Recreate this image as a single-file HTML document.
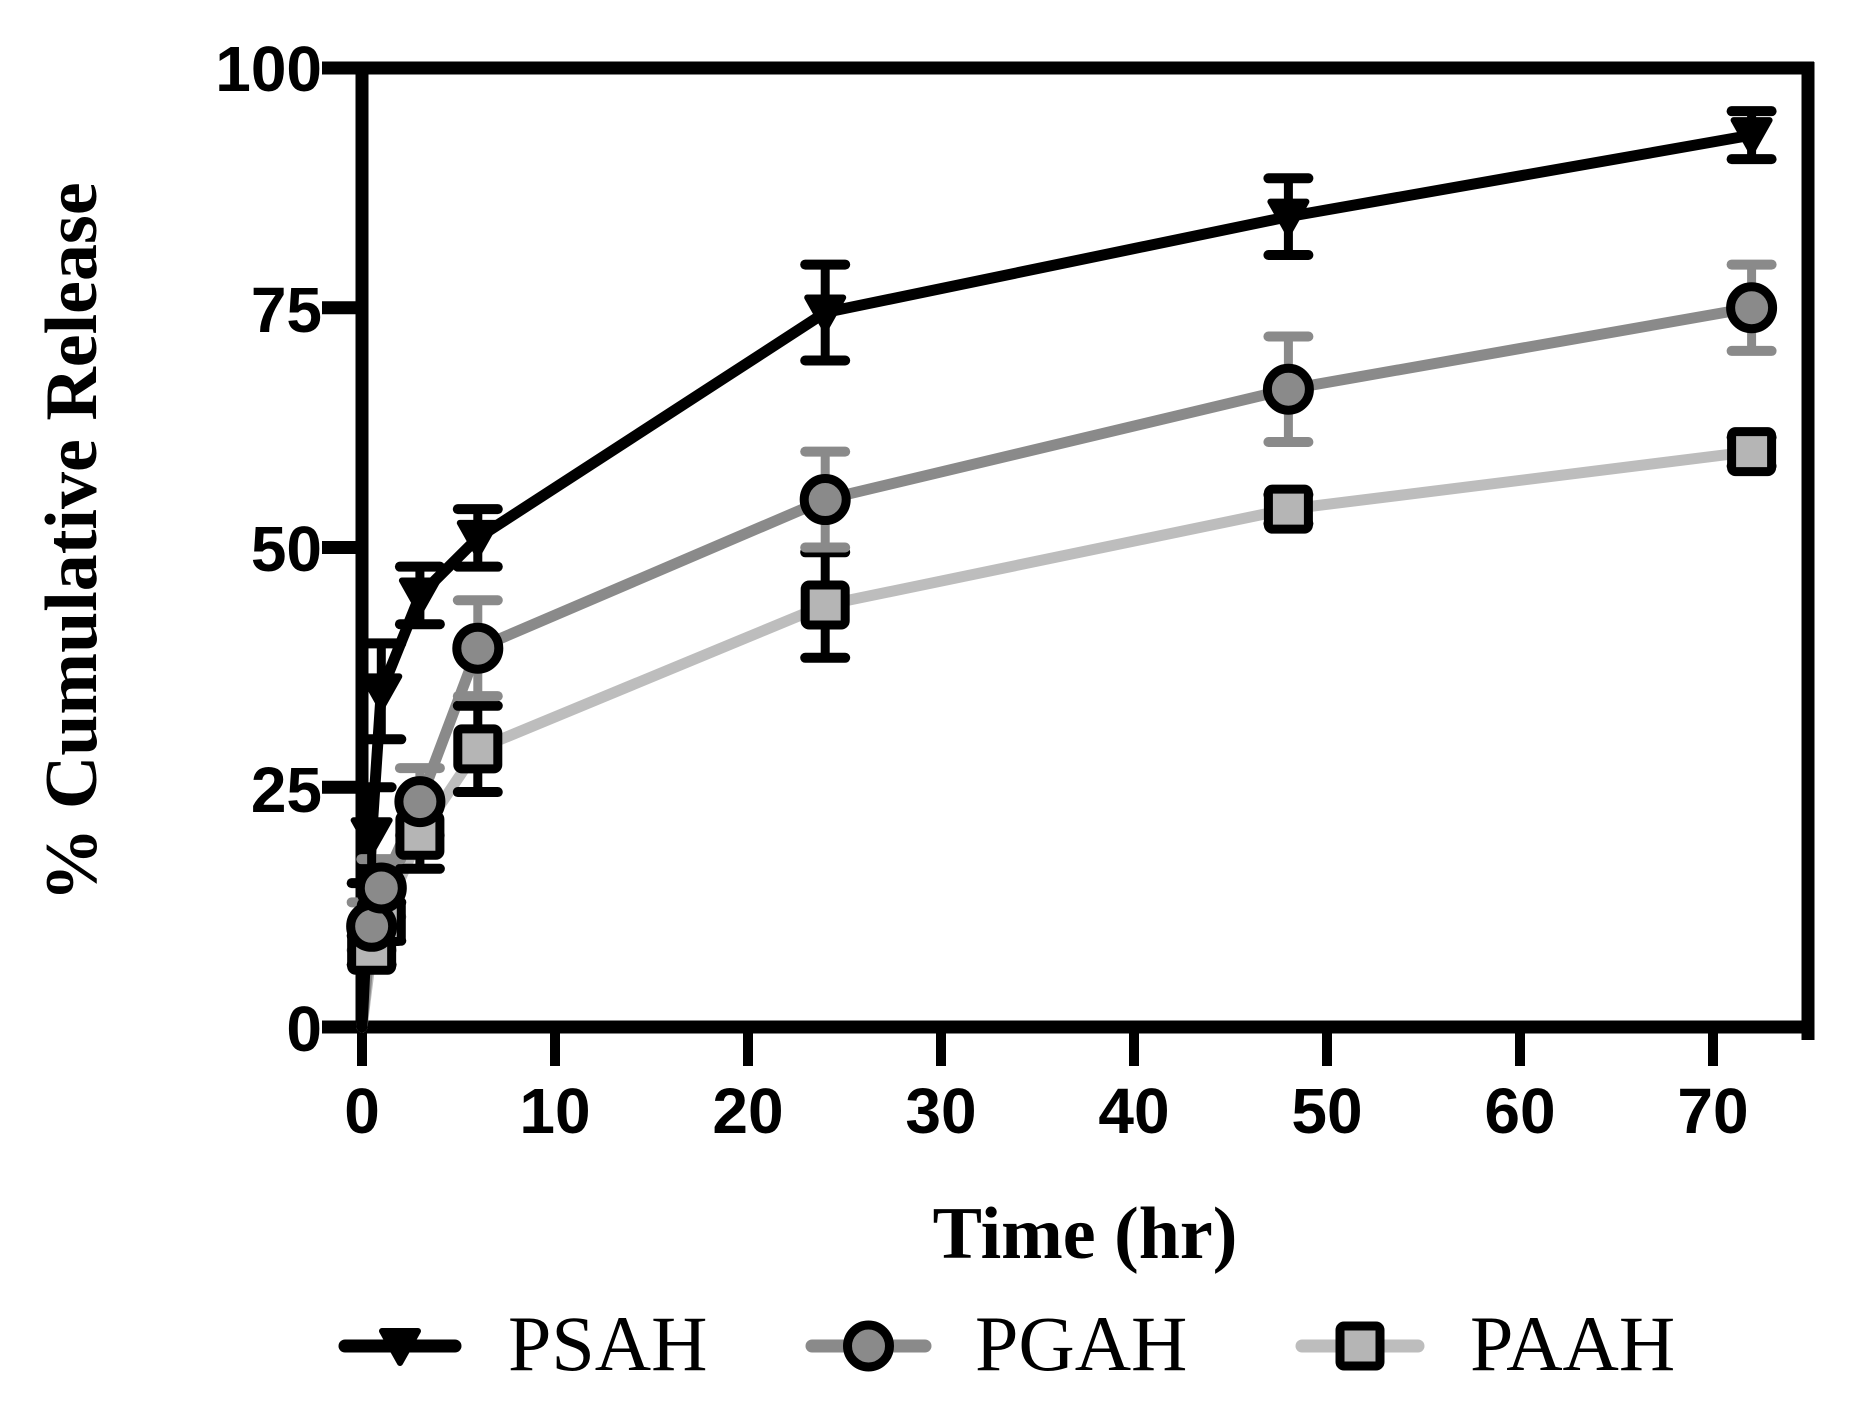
<!DOCTYPE html>
<html><head><meta charset="utf-8"><style>
html,body{margin:0;padding:0;background:#fff}
svg{display:block}
</style></head><body>
<svg id="s" width="1856" height="1417" viewBox="0 0 1856 1417" xmlns="http://www.w3.org/2000/svg">
<g font-family="Liberation Sans, Arial, sans-serif" font-weight="bold" font-size="64" fill="#000" text-anchor="end">
<text x="322" y="91">100</text>
<text x="322" y="332">75</text>
<text x="322" y="571">50</text>
<text x="322" y="812">25</text>
<text x="322" y="1051">0</text>
</g>
<g font-family="Liberation Sans, Arial, sans-serif" font-weight="bold" font-size="64" fill="#000" text-anchor="middle">
<text x="362" y="1133">0</text><text x="555" y="1133">10</text><text x="748" y="1133">20</text><text x="941" y="1133">30</text>
<text x="1134" y="1133">40</text><text x="1327" y="1133">50</text><text x="1520" y="1133">60</text><text x="1713" y="1133">70</text>
</g>
<text x="1085" y="1258" font-family="Liberation Serif, serif" font-weight="bold" font-size="74" text-anchor="middle">Time (hr)</text>
<text transform="translate(96,542) rotate(-90)" font-family="Liberation Serif, serif" font-weight="bold" font-size="74" text-anchor="middle">% Cumulative Release</text>
<g id="plot"></g>
<g font-family="Liberation Serif, serif" font-size="78" fill="#000">
<text x="508" y="1370">PSAH</text>
<text x="975" y="1370">PGAH</text>
<text x="1470" y="1370">PAAH</text>
</g>
</svg>
<script>
var NS="http://www.w3.org/2000/svg",g=document.getElementById("plot");
function el(t,a){var e=document.createElementNS(NS,t);for(var k in a)e.setAttribute(k,a[k]);g.appendChild(e);return e;}
function X(t){return 362+t*19.3}function Y(v){return 1027-v*9.59}
el("line",{x1:362,y1:62,x2:362,y2:1033,stroke:"#000","stroke-width":13});
el("line",{x1:356,y1:1027,x2:1814,y2:1027,stroke:"#000","stroke-width":13});
el("line",{x1:356,y1:68,x2:1814,y2:68,stroke:"#000","stroke-width":13});
el("line",{x1:1808,y1:62,x2:1808,y2:1040,stroke:"#000","stroke-width":13});
[0,25,50,75,100].forEach(function(v){el("line",{x1:322,y1:Y(v),x2:362,y2:Y(v),stroke:"#000","stroke-width":13});});
for(var i=0;i<=7;i++){el("line",{x1:X(i*10),y1:1027,x2:X(i*10),y2:1066,stroke:"#000","stroke-width":10});}
var S=[
 {c:"#bdbdbd",m:"sq",d:[[0,0,0],[0.5,8,1.5],[1,11,2],[3,20,3.5],[6,29,4.5],[24,44,5.5],[48,54,1.5],[72,60,1.5]],ec:"#000"},
 {c:"#8a8a8a",m:"ci",d:[[0,0,0],[0.5,10.5,2.5],[1,14.5,3],[3,23.5,3.5],[6,39.5,5],[24,55,5],[48,66.5,5.5],[72,75,4.5]],ec:"#8a8a8a"},
 {c:"#000",m:"tr",d:[[0,0,0],[0.5,20,5],[1,35,5],[3,45,3],[6,51,3],[24,74.5,5],[48,84.5,4],[72,93,2.5]],ec:"#000"}
];
S.forEach(function(s){
 var p=s.d.map(function(d){return X(d[0])+","+Y(d[1])}).join(" ");
 el("polyline",{points:p,fill:"none",stroke:s.c,"stroke-width":11,"stroke-linejoin":"round","stroke-linecap":"round"});
});
S.forEach(function(s){
 s.d.forEach(function(d){
  if(d[2]==0)return;var x=X(d[0]);
  var y1=Y(d[1]+d[2]),y2=Y(d[1]-d[2]);
  el("line",{x1:x,y1:y1,x2:x,y2:y2,stroke:s.ec,"stroke-width":9});
  el("line",{x1:x-20,y1:y1,x2:x+20,y2:y1,stroke:s.ec,"stroke-width":10,"stroke-linecap":"round"});
  el("line",{x1:x-20,y1:y2,x2:x+20,y2:y2,stroke:s.ec,"stroke-width":10,"stroke-linecap":"round"});
 });
});
function mark(m,x,y){
 if(m=="sq")el("rect",{x:x-20,y:y-20,width:40,height:40,rx:4,fill:"#b5b5b5",stroke:"#000","stroke-width":9});
 else if(m=="ci")el("circle",{cx:x,cy:y,r:21,fill:"#8a8a8a",stroke:"#000","stroke-width":9});
 else el("polygon",{points:(x-18)+","+(y-15)+" "+(x+18)+","+(y-15)+" "+x+","+(y+17),fill:"#000",stroke:"#000","stroke-width":6,"stroke-linejoin":"round"});
}
S.forEach(function(s){s.d.forEach(function(d){if(d[0]==0)return;mark(s.m,X(d[0]),Y(d[1]));});});
var L=[[345,455,"#000","tr"],[812,925,"#8a8a8a","ci"],[1302,1418,"#bdbdbd","sq"]];
L.forEach(function(l){el("line",{x1:l[0],y1:1346,x2:l[1],y2:1346,stroke:l[2],"stroke-width":13,"stroke-linecap":"round"});mark(l[3],(l[0]+l[1])/2,1346);});
</script>
</body></html>
